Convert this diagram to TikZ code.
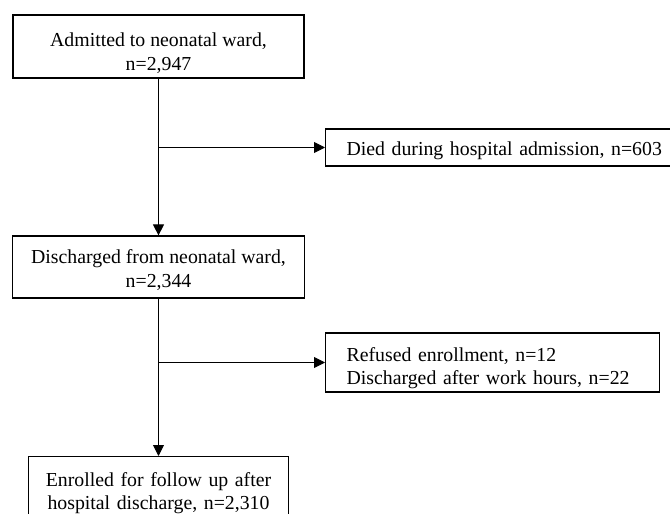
\documentclass[tikz,border=0pt]{standalone}
\usepackage{fontspec}
\setmainfont{Liberation Serif}
\usetikzlibrary{arrows.meta}
\newcommand{\topgap}[1]{\rule{0pt}{#1}}
\tikzset{
	box/.style={draw, line width=1.2pt, inner xsep=0pt, font=\fontsize{19.8}{23.3}\selectfont},
	sidebox/.style={box, anchor=west, align=left, inner xsep=21pt, inner ysep=0pt},
	flow/.style={line width=0.9pt, -{Triangle[length=11pt,width=11pt]}}
}
\begin{document}
\begin{tikzpicture}[x=1pt, y=-1pt]
	% keret
	\useasboundingbox (0,0) rectangle (670,514);
	\clip (0,0) rectangle (670,514);
	
	%dobozok
	\node[box, align=center, minimum width=291pt, minimum height=63pt] (adm) at (158.5,46.5) {\topgap{27pt}Admitted to neonatal ward,\\ n=2,947};
	\node[box, align=center, minimum width=292pt, minimum height=62pt] (dis) at (158.5,267) {\topgap{20pt}Discharged from neonatal ward,\\ n=2,344};
	\node[box, align=center, anchor=north, text width=260pt, inner ysep=16pt, text depth=70pt] (enr) at (158.5,456) {Enrolled for follow up after\\ hospital discharge, n=2,310};
	
	%kiesettek
	\node[sidebox, text width=330pt, minimum height=37pt] (died) at (325,147.5) {\topgap{19.5pt}Died during hospital admission, n=603};
	\node[sidebox, text width=292pt, minimum height=59pt] (ref) at (325,362.5) {\topgap{25.5pt}Refused enrollment, n=12\\ Discharged after work hours, n=22};
	
	%nyilak
	\draw[flow] (adm.south) -- (dis.north);
	\draw[flow] (dis.south) -- (enr.north);
	\draw[flow] (adm.south |- died.west) -- (died.west);
	\draw[flow] (dis.south |- ref.west) -- (ref.west);
\end{tikzpicture}
\end{document}
